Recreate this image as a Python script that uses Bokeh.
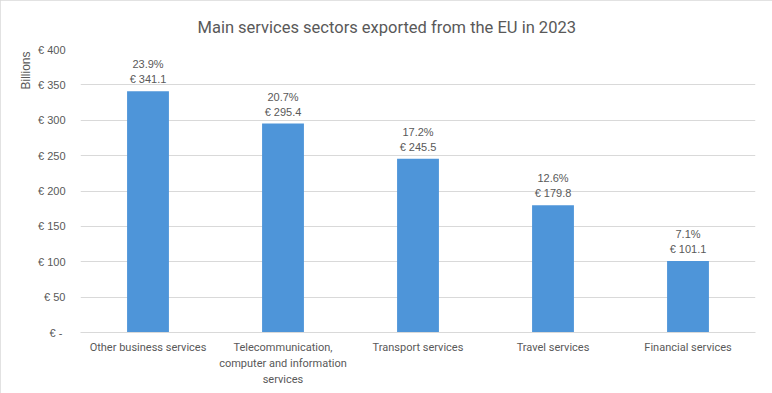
from bokeh.plotting import figure
from bokeh.models import ColumnDataSource, Title, FixedTicker, CustomJSTickFormatter, Range1d
from bokeh.embed import file_html
from bokeh.resources import INLINE
from bokeh.core.properties import value

categories = ["Other business services",
              "Telecommunication,\ncomputer and information\nservices",
              "Transport services", "Travel services", "Financial services"]
values = [341.1, 295.4, 245.5, 179.8, 101.1]
shares = ["23.9%", "20.7%", "17.2%", "12.6%", "7.1%"]
y_ticks = [0, 50, 100, 150, 200, 250, 300, 350, 400]

labels = [f"{s}\n\u20ac {v:.1f}" for s, v in zip(shares, values)]
src = ColumnDataSource(dict(cat=categories, val=values, lab=labels))

GREY = "#595959"
p = figure(x_range=categories, width=772, height=393, output_backend="svg",
           toolbar_location=None, min_border_left=80, min_border_right=17,
           min_border_top=49, min_border_bottom=61)
p.y_range = Range1d(0, 400)
p.outline_line_color = None
p.background_fill_color = "white"
p.border_fill_color = "white"
p.styles = {"outline": "1px solid #d9d9d9", "outline-offset": "-1px"}

p.title.text = "Main services sectors exported from the EU in 2023"
p.title.align = "left"
p.title.offset = 117
p.title.vertical_align = "top"
p.title.text_font = "Liberation Sans Narrow, Roboto, sans-serif"
p.title.text_font_size = "16.5px"
p.title.text_font_style = "normal"
p.title.text_color = GREY
p.title.standoff = 21

p.vbar(x="cat", top="val", width=0.31, source=src, color="#4E95D9", line_color=None)
p.text(x="cat", y="val", text="lab", source=src, text_align="center",
       text_baseline="bottom", y_offset=-6, text_font=value("Liberation Sans"),
       text_font_size="11px", text_color=GREY, text_line_height=1.25)

p.yaxis.ticker = FixedTicker(ticks=y_ticks)
p.yaxis.formatter = CustomJSTickFormatter(code="return tick == 0 ? '\u20ac - ' : '\u20ac ' + tick;")
p.yaxis.axis_line_color = None
p.yaxis.major_tick_line_color = None
p.yaxis.minor_tick_line_color = None
p.yaxis.major_label_text_font = "Liberation Sans"
p.yaxis.major_label_text_font_size = "11px"
p.yaxis.major_label_text_color = GREY
p.yaxis.major_label_standoff = 9

p.xaxis.axis_line_color = "#d9d9d9"
p.xaxis.major_tick_line_color = None
p.xaxis.minor_tick_line_color = None
p.xaxis.major_label_text_font = "Liberation Sans Narrow, Roboto, sans-serif"
p.xaxis.major_label_text_font_size = "11px"
p.xaxis.major_label_text_color = GREY
p.xaxis.major_label_standoff = 2
p.xaxis.major_label_text_line_height = 1.25

p.xgrid.grid_line_color = None
p.ygrid.grid_line_color = "#d9d9d9"
p.ygrid.ticker = FixedTicker(ticks=y_ticks)

p.add_layout(Title(text="Billions", align="right", text_font="Liberation Sans",
                   text_font_size="12px", text_font_style="normal",
                   text_color=GREY, offset=2, standoff=3), "left")

open("out.html", "w").write(file_html(p, INLINE))
